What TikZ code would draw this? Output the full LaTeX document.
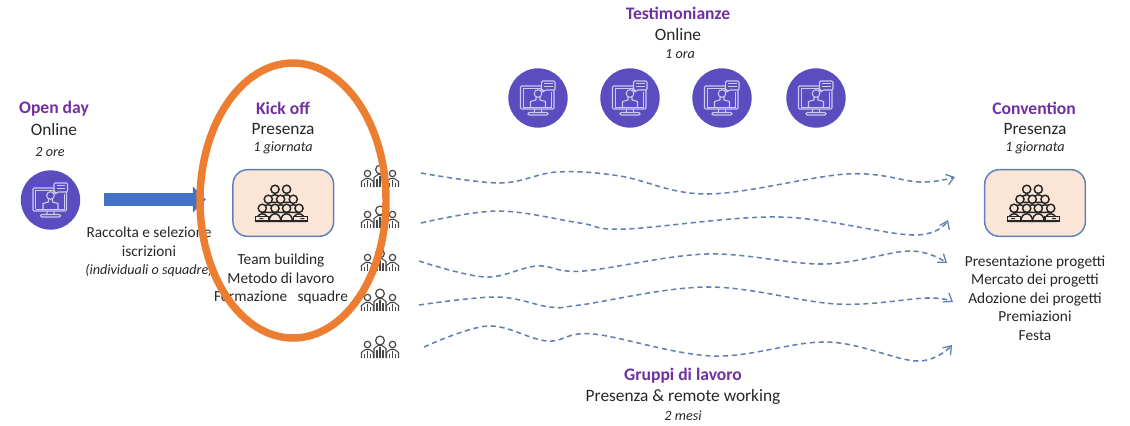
\documentclass[tikz,border=0pt]{standalone}
\usepackage{fontspec}
\setmainfont{Carlito}
\usetikzlibrary{arrows.meta}
\definecolor{ttlcol}{HTML}{7030A0}
\definecolor{webcol}{HTML}{5B4CBF}
\definecolor{webline}{HTML}{CFC9F0}
\definecolor{deskcol}{HTML}{FBE5D6}
\definecolor{deskline}{HTML}{5F80B8}
\definecolor{flowcol}{HTML}{5F7FB5}
\definecolor{arrcol}{HTML}{4472C4}
\definecolor{ringcol}{HTML}{ED7D31}
\definecolor{inkcol}{HTML}{262626}
\tikzset{
  ttl/.style={font=\fontsize{13.2}{15}\selectfont\bfseries,text=ttlcol,inner sep=0pt},
  mode/.style={font=\fontsize{13}{15}\selectfont,text=inkcol,inner sep=0pt},
  span/.style={font=\fontsize{10.6}{12}\selectfont\itshape,text=inkcol,inner sep=0pt},
  notes/.style={font=\fontsize{11.5}{13.9}\selectfont,text=inkcol,align=center,inner sep=0pt},
  webdot/.style={circle,fill=webcol,minimum size=44.5pt,inner sep=0pt},
  deskbox/.style={draw=deskline,fill=deskcol,line width=1.1pt,rounded corners=11pt,minimum width=75.5pt,minimum height=50pt,inner sep=0pt},
  teamdot/.style={minimum width=28pt,minimum height=17pt,inner sep=0pt},
  flow/.style={draw=flowcol,line width=1.15pt,dash pattern=on 3.8pt off 2.8pt,-{Straight Barb[length=5.5pt,width=8pt,line width=0.95pt]}},
  screenicon/.pic={
    \draw[webline,line width=0.8pt,rounded corners=0.8pt] (-17.5,-12) rectangle (16,11);
    \draw[webline,line width=0.6pt] (-15,9) -- (-15,-9.5) -- (4,-9.5) (13.5,-6) -- (13.5,9) -- (-15,9);
    \draw[webline,line width=0.8pt] (-3,11) -- (-4,14.5) (3,11) -- (4,14.5);
    \draw[webline,line width=0.8pt,rounded corners=0.8pt] (-10,14.5) rectangle (10,17);
    \draw[webline,line width=0.8pt] (0,-4.5) circle (3.8);
    \draw[webline,line width=0.8pt] (-2,-1) -- (-2,2) -- (-7.5,3.5) -- (-7.5,9) (2,-1) -- (2,2) -- (7.5,3.5) -- (7.5,9);
    \draw[webline,fill=webcol,line width=0.8pt,rounded corners=0.8pt] (3.5,-17) -- (17,-17) -- (17,-8) -- (7,-8) -- (4.5,-5.5) -- (4.5,-8) -- (3.5,-8) -- cycle;
    \draw[webline,line width=0.6pt] (6,-14.5) -- (14.5,-14.5) (6,-12) -- (14.5,-12);
  },
  crowdicon/.pic={
    % back rows first, so that the front ones cover them
    \foreach \hx/\hy in {-8.3/-13.7,3.3/-13.7,-15/-3.7,-2.7/-3.7,10/-3.7,-21/5.3,15.7/5.3,-8.3/5.3,3.3/5.3}{
      \draw[inkcol,fill=deskcol,line width=1.1pt] (\hx-5.8,\hy+13) .. controls (\hx-5.8,\hy+3) and (\hx+5.8,\hy+3) .. (\hx+5.8,\hy+13) -- cycle;
      \draw[inkcol,fill=deskcol,line width=1.1pt] (\hx,\hy) circle (4.1);
    }
    \draw[inkcol,fill=deskcol,line width=1.1pt] (-27.7,13.5) rectangle (-14.5,18);
    \draw[inkcol,fill=deskcol,line width=1.1pt] (10,13.5) rectangle (24.3,18);
    \draw[inkcol,line width=1.4pt] (-27.7,18) -- (24.3,18);
    \fill[inkcol] (-24,15) rectangle (-20,16.2) (17,15) rectangle (21,16.2);
  },
  teamicon/.pic={
    \foreach \hx/\hy/\hr in {-12.5/-2.5/3.2,12.5/-2.5/3.2,0/-6.5/4.4}{
      \draw[inkcol!85,fill=white,line width=0.8pt] (\hx-6,11) -- (\hx-6,\hy+8) -- (\hx-2,\hy+5) -- (\hx+2,\hy+5) -- (\hx+6,\hy+8) -- (\hx+6,11);
      \draw[inkcol!85,line width=0.8pt] (\hx-3,11) -- (\hx-3,\hy+9) (\hx,11) -- (\hx,\hy+6) (\hx+3,11) -- (\hx+3,\hy+9);
      \draw[inkcol!85,fill=white,line width=0.9pt] (\hx,\hy) circle (\hr);
    }
  }
}
\begin{document}
\begin{tikzpicture}[x=0.75pt,y=-0.75pt]
\useasboundingbox (0,0) rectangle (1130,425);
% open day
\node[ttl] (openT) at (54,109) {Open day};
\node[mode] (openM) at (54,130) {Online};
\node[span] (openS) at (50,152) {2 ore};
\node[webdot] (openW) at (50.5,200) {};
\pic at (openW) {screenicon};
% arrow and enrolment
\coordinate (arrA) at (104,199.5);
\coordinate (arrB) at (206,199.5);
\draw[arrcol,line width=9.8pt,-{Triangle[length=9.8pt,width=18.8pt]}] (arrA) -- (arrB);
\node[notes] (enrol) at (149,252) {Raccolta e selezione\\iscrizioni\\{\fontsize{10.6}{13.9}\selectfont\itshape (individuali o squadre)}};
% kick off
\node[ttl] (kickT) at (283,108) {Kick off};
\node[mode] (kickM) at (283,129) {Presenza};
\node[span] (kickS) at (283,148) {1 giornata};
\node[deskbox] (kickB) at (283.3,203) {};
\pic at (kickB) {crowdicon};
\node[notes] (kickN) at (281,279) {Team building\\Metodo di lavoro\\Formazione\ \ \ squadre};
% testimonianze
\node[ttl] (testT) at (678,13) {Testimonianze};
\node[mode] (testM) at (678,35) {Online};
\node[span] (testS) at (680,54) {1 ora};
\foreach \wx/\wn in {538/a,630/b,722/c,816/d}{
  \node[webdot] (web\wn) at (\wx,98) {};
  \pic at (web\wn) {screenicon};
}
% convention
\node[ttl] (convT) at (1034,108) {Convention};
\node[mode] (convM) at (1035,129) {Presenza};
\node[span] (convS) at (1035,148) {1 giornata};
\node[deskbox] (convB) at (1035,203) {};
\pic at (convB) {crowdicon};
\node[notes] (convN) at (1035,298) {Presentazione progetti\\Mercato dei progetti\\Adozione dei progetti\\Premiazioni\\Festa};
% teams
\foreach \ty/\tn in {176/1,217/2,260/3,300/4,347/5}{
  \node[teamdot] (team\tn) at (380,\ty) {};
  \pic at (team\tn) {teamicon};
}
% working groups
\coordinate (s1) at (421,173); \coordinate (e1) at (955,177);
\coordinate (s2) at (421,223); \coordinate (e2) at (948,220);
\coordinate (s3) at (419,261); \coordinate (e3) at (947,263);
\coordinate (s4) at (419,305); \coordinate (e4) at (953,302);
\coordinate (s5) at (424,347); \coordinate (e5) at (952,345);
\draw[flow] plot[smooth,tension=0.6] coordinates {(s1) (500,183) (557,172) (620,176) (708,194) (847,174) (920,182) (e1)};
\draw[flow] plot[smooth,tension=0.6] coordinates {(s2) (498,211) (580,223) (625,229) (780,217) (913,235) (e2)};
\draw[flow] plot[smooth,tension=0.6] coordinates {(s3) (485,277) (537,266) (583,271) (707,254) (823,264) (910,251) (e3)};
\draw[flow] plot[smooth,tension=0.6] coordinates {(s4) (497,297) (550,307) (580,305) (708,287) (837,304) (927,298) (e4)};
\draw[flow] plot[smooth,tension=0.6] coordinates {(s5) (488,326) (547,341) (593,334) (713,356) (827,342) (917,361) (e5)};
\node[ttl] (grpT) at (683,376) {Gruppi di lavoro};
\node[mode] (grpM) at (683,397) {Presenza \& remote working};
\node[span] (grpS) at (683,416) {2 mesi};
% ring round the kick off
\draw[ringcol,line width=5.6pt] (293,200.5) ellipse [x radius=93,y radius=137.5];
\end{tikzpicture}
\end{document}
